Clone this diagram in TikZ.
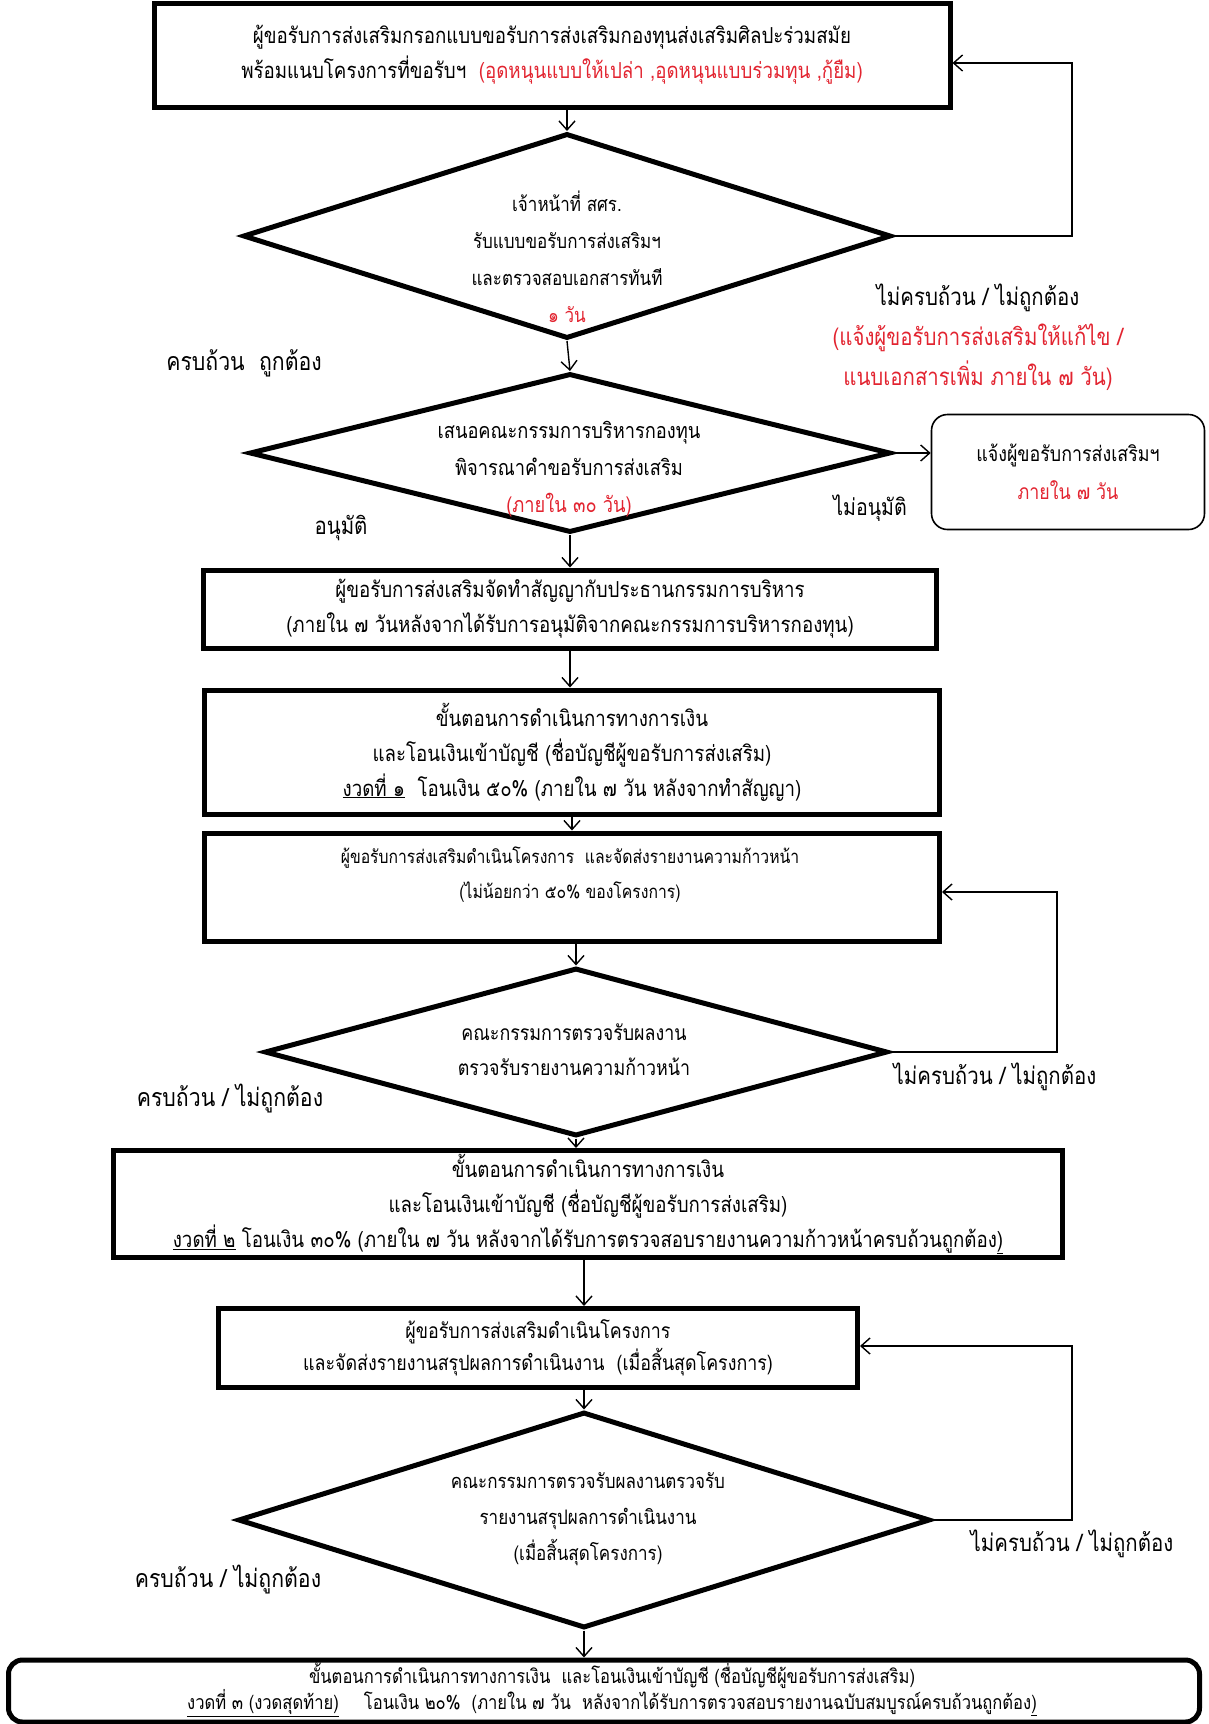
\documentclass[tikz,border=0pt]{standalone}
\usepackage{fontspec}
\usetikzlibrary{shapes.geometric,arrows.meta}
\newfontfamily\thai[Script=Thai,FakeStretch=0.85]{Loma}
\definecolor{warn}{RGB}{226,36,48}

\begin{document}
\begin{tikzpicture}[x=1pt,y=-1pt,
   every node/.style={align=center,inner sep=0pt,font=\thai\fontsize{22}{35}\selectfont},
   stepbox/.style={draw,line width=5pt},
   decide/.style={draw,diamond,line width=5pt},
   notebox/.style={draw,rounded corners=16pt,line width=1.6pt,font=\thai\fontsize{21}{38}\selectfont},
   lbl/.style={font=\thai\fontsize{24}{40}\selectfont},
   flow/.style={line width=1.4pt,-{Straight Barb[length=9pt,width=16pt]}}]
\useasboundingbox (0,0) rectangle (1209,1724);

\node[stepbox,minimum width=796pt,minimum height=104pt] (apply) at (552,55)
   {ผู้ขอรับการส่งเสริมกรอกแบบขอรับการส่งเสริมกองทุนส่งเสริมศิลปะร่วมสมัย\\
    พร้อมแนบโครงการที่ขอรับฯ\ \ \textcolor{warn}{(อุดหนุนแบบให้เปล่า ,อุดหนุนแบบร่วมทุน ,กู้ยืม)}};
\node[decide,minimum width=648pt,minimum height=205pt] (check) at (567,236) {};
\node[font=\thai\fontsize{20}{37}\selectfont] (checktxt) at (567,257)
   {เจ้าหน้าที่ สศร.\\ รับแบบขอรับการส่งเสริมฯ\\ และตรวจสอบเอกสารทันที\\ \textcolor{warn}{๑ วัน}};
\node[decide,minimum width=641pt,minimum height=159pt] (board) at (570,453) {};
\node[font=\thai\fontsize{21.5}{37}\selectfont] (boardtxt) at (569,469)
   {เสนอคณะกรรมการบริหารกองทุน\\ พิจารณาคำขอรับการส่งเสริม\\ \textcolor{warn}{(ภายใน ๓๐ วัน)}};
\node[notebox,minimum width=273pt,minimum height=115pt] (reject) at (1068,472)
   {แจ้งผู้ขอรับการส่งเสริมฯ\\ \textcolor{warn}{ภายใน ๗ วัน}};
\node[stepbox,minimum width=733pt,minimum height=78pt] (contract) at (570,609)
   {ผู้ขอรับการส่งเสริมจัดทำสัญญากับประธานกรรมการบริหาร\\
    (ภายใน ๗ วันหลังจากได้รับการอนุมัติจากคณะกรรมการบริหารกองทุน)};
\node[stepbox,minimum width=735pt,minimum height=124pt] (pay1) at (572,752)
   {ขั้นตอนการดำเนินการทางการเงิน\\
    และโอนเงินเข้าบัญชี (ชื่อบัญชีผู้ขอรับการส่งเสริม)\\
    \underline{งวดที่ ๑}\ \ โอนเงิน ๕๐\% (ภายใน ๗ วัน หลังจากทำสัญญา)};
\node[stepbox,minimum width=735pt,minimum height=108pt] (progress) at (572,887) {};
\node[font=\thai\fontsize{18.5}{35}\selectfont] (progresstxt) at (570,875)
   {ผู้ขอรับการส่งเสริมดำเนินโครงการ\ \ และจัดส่งรายงานความก้าวหน้า\\
    (ไม่น้อยกว่า ๕๐\% ของโครงการ)};
\node[decide,minimum width=623pt,minimum height=168pt] (vet1) at (576,1052) {};
\node[font=\thai\fontsize{21}{35}\selectfont] (vet1txt) at (574,1050)
   {คณะกรรมการตรวจรับผลงาน\\ ตรวจรับรายงานความก้าวหน้า};
\node[stepbox,minimum width=949pt,minimum height=107pt] (pay2) at (588,1204)
   {ขั้นตอนการดำเนินการทางการเงิน\\
    และโอนเงินเข้าบัญชี (ชื่อบัญชีผู้ขอรับการส่งเสริม)\\
    \underline{งวดที่ ๒}\ โอนเงิน ๓๐\% (ภายใน ๗ วัน หลังจากได้รับการตรวจสอบรายงานความก้าวหน้าครบถ้วนถูกต้อง\underline{)}};
\node[stepbox,minimum width=639pt,minimum height=79pt,font=\thai\fontsize{21}{32}\selectfont] (report) at (538,1348)
   {ผู้ขอรับการส่งเสริมดำเนินโครงการ\\
    และจัดส่งรายงานสรุปผลการดำเนินงาน\ \ (เมื่อสิ้นสุดโครงการ)};
\node[decide,minimum width=692pt,minimum height=216pt] (vet2) at (584,1520) {};
\node[font=\thai\fontsize{20}{36}\selectfont] (vet2txt) at (588,1519)
   {คณะกรรมการตรวจรับผลงานตรวจรับ\\ รายงานสรุปผลการดำเนินงาน\\ (เมื่อสิ้นสุดโครงการ)};
\node[stepbox,rounded corners=14pt,minimum width=1191pt,minimum height=62pt] (pay3) at (604,1691) {};
\node[font=\thai\fontsize{19.5}{26}\selectfont] (pay3txt) at (612,1690)
   {ขั้นตอนการดำเนินการทางการเงิน\ \ และโอนเงินเข้าบัญชี (ชื่อบัญชีผู้ขอรับการส่งเสริม)\\
    \underline{งวดที่ ๓ (งวดสุดท้าย)}\quad\ โอนเงิน ๒๐\%\ \ (ภายใน ๗ วัน\ \ หลังจากได้รับการตรวจสอบรายงานฉบับสมบูรณ์ครบถ้วนถูกต้อง\underline{)}};

\node[lbl] (fix) at (978,337)
   {ไม่ครบถ้วน / ไม่ถูกต้อง\\ \textcolor{warn}{(แจ้งผู้ขอรับการส่งเสริมให้แก้ไข /}\\
    \textcolor{warn}{แนบเอกสารเพิ่ม ภายใน ๗ วัน)}};
\node[lbl,font=\thai\fontsize{25}{40}\selectfont] (ok1) at (244,363) {ครบถ้วน\ \ ถูกต้อง};
\node[lbl] (yes) at (341,528) {อนุมัติ};
\node[font=\thai\fontsize{23}{35}\selectfont] (no) at (870,508) {ไม่อนุมัติ};
\node[lbl] (redo1) at (995,1077) {ไม่ครบถ้วน / ไม่ถูกต้อง};
\node[lbl,font=\thai\fontsize{25}{40}\selectfont] (ok2) at (230,1099) {ครบถ้วน / ไม่ถูกต้อง};
\node[lbl] (redo2) at (1072,1544) {ไม่ครบถ้วน / ไม่ถูกต้อง};
\node[lbl,font=\thai\fontsize{25}{40}\selectfont] (ok3) at (228,1580) {ครบถ้วน / ไม่ถูกต้อง};

\coordinate (back1) at (1072,63);
\coordinate (back2) at (1057,892);
\coordinate (back3) at (1072,1346);

\draw[flow] (apply.south -| check.north) -- (check.north);
\draw[flow] (check.south) -- (board.north);
\draw[flow] (check.east) -| (back1) -- (back1 -| apply.east);
\draw[flow] (board.east) -- (board.east -| reject.west);
\draw[flow] (board.south) -- (board.south |- contract.north);
\draw[flow] (contract.south) -- (contract.south |- pay1.north);
\draw[flow] (pay1.south) -- (pay1.south |- progress.north);
\draw[flow] (progress.south -| vet1.north) -- (vet1.north);
\draw[flow] (vet1.east) -| (back2) -- (back2 -| progress.east);
\draw[flow] (vet1.south) -- (vet1.south |- pay2.north);
\draw[flow] (pay2.south -| vet2.north) -- (report.north -| vet2.north);
\draw[flow] (report.south -| vet2.north) -- (vet2.north);
\draw[flow] (vet2.east) -| (back3) -- (back3 -| report.east);
\draw[flow] (vet2.south) -- (vet2.south |- pay3.north);
\end{tikzpicture}
\end{document}
